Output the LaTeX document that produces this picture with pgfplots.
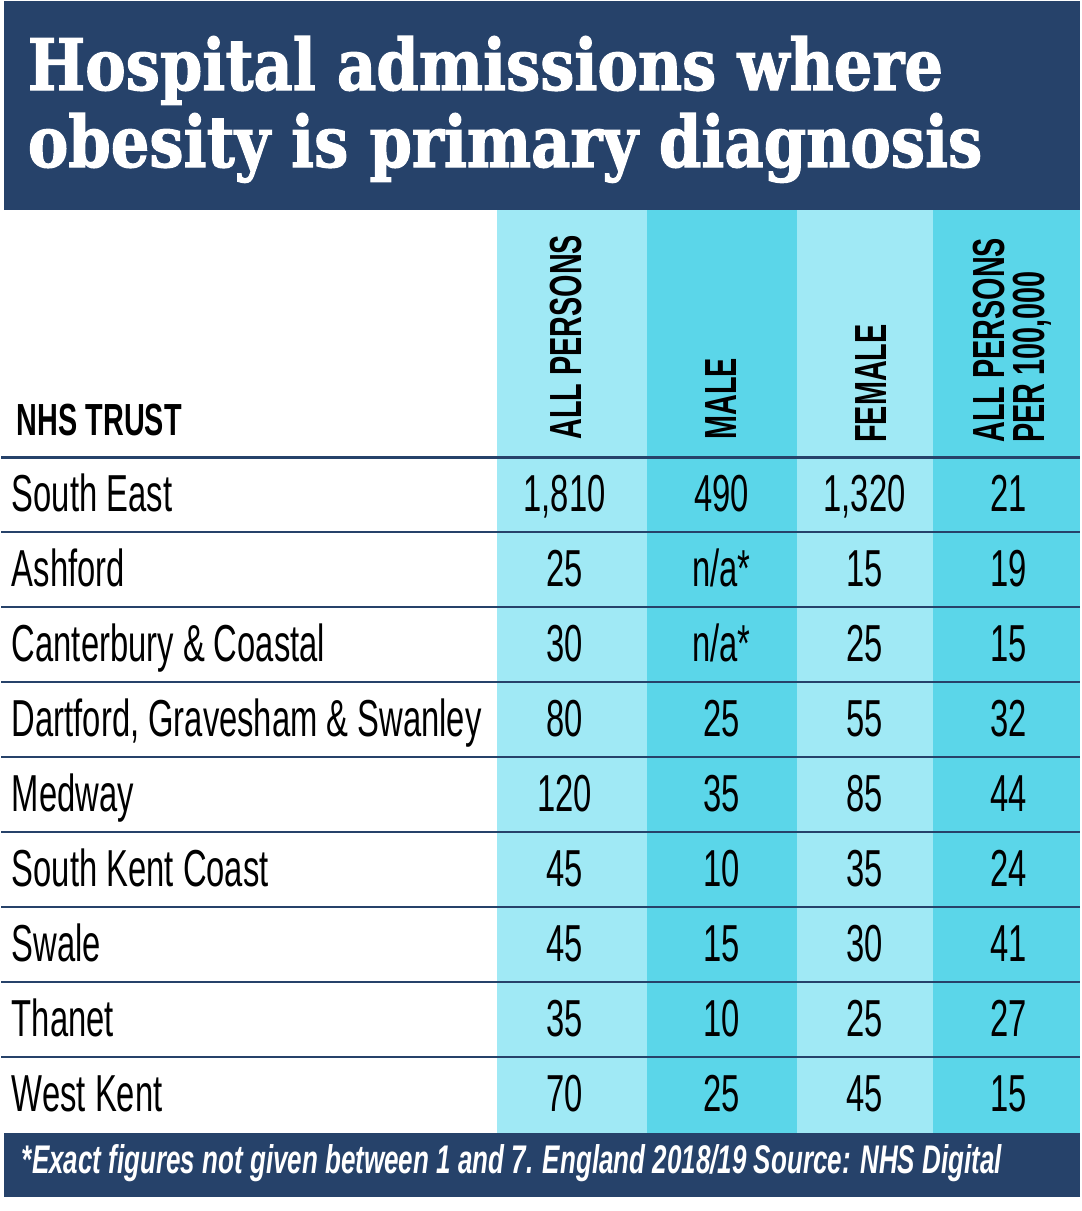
\documentclass[border=0pt]{standalone}
\usepackage{pgfplots}
\usepackage{pgfplotstable}
\pgfplotsset{compat=1.18}
\usepackage{fontspec}
\setmainfont{Liberation Sans}
\newfontfamily\condfont[FakeStretch=0.63]{Liberation Sans}
\newfontfamily\headfont[FakeStretch=0.64]{Liberation Sans}
\newfontfamily\titlefont[FakeStretch=0.855, FakeBold=1.6]{DejaVu Serif}
\newfontfamily\footfont[FakeStretch=0.65]{Liberation Sans}
\definecolor{navy}{HTML}{26426A}
\definecolor{lightcyan}{HTML}{A0E9F5}
\definecolor{darkcyan}{HTML}{5BD6E9}
\pgfplotstableread[col sep=semicolon]{
name;all;male;female;per
South East;1,810;490;1,320;21
Ashford;25;n/a*;15;19
Canterbury \& Coastal;30;n/a*;25;15
Dartford, Gravesham \& Swanley;80;25;55;32
Medway;120;35;85;44
South Kent Coast;45;10;35;24
Swale;45;15;30;41
Thanet;35;10;25;27
West Kent;70;25;45;15
}\trusts
\begin{document}
\begin{tikzpicture}
\begin{axis}[
  width=540pt, height=605.5pt, scale only axis,
  xmin=0, xmax=1080, ymin=0, ymax=1211, y dir=reverse,
  hide axis, clip=false,
  cellnum/.style={draw=none, mark=none, nodes near coords, point meta=explicit symbolic,
    nodes near coords style={anchor=base, inner sep=0pt, text=black,
      font=\condfont\fontsize{26}{30}\selectfont}},
]
% background
\fill[white] (axis cs:0,0) rectangle (axis cs:1080,1211);
% title box
\fill[navy] (axis cs:3,1) rectangle (axis cs:1078,210);
% columns
\fill[lightcyan] (axis cs:495,210) rectangle (axis cs:645,1133);
\fill[darkcyan] (axis cs:645,210) rectangle (axis cs:795,1133);
\fill[lightcyan] (axis cs:795,210) rectangle (axis cs:931,1133);
\fill[darkcyan] (axis cs:931,210) rectangle (axis cs:1078,1133);
% footer
\fill[navy] (axis cs:3,1133) rectangle (axis cs:1078,1197);
% row rules
\draw[navy, line width=1.5pt] (axis cs:0,457) -- (axis cs:1078,457);
\foreach \yy in {532,607,682,757,832,907,982,1057} {
  \edef\tmp{\noexpand\draw[navy, line width=1.1pt] (axis cs:0,\yy) -- (axis cs:1078,\yy);}\tmp
}
% title
\node[anchor=base west, text=white, inner sep=0pt, font=\titlefont\bfseries\fontsize{35.5}{40}\selectfont] at (axis cs:26,90) {Hospital admissions where};
\node[anchor=base west, text=white, inner sep=0pt, font=\titlefont\bfseries\fontsize{35.5}{40}\selectfont] at (axis cs:26,167) {obesity is primary diagnosis};
% headers
\node[anchor=base west, inner sep=0pt, font=\headfont\bfseries\fontsize{22.5}{24}\selectfont] at (axis cs:15,435) {NHS TRUST};
\node[rotate=90, anchor=base west, inner sep=0pt, font=\headfont\bfseries\fontsize{22.5}{24}\selectfont] at (axis cs:580,440) {ALL PERSONS};
\node[rotate=90, anchor=base west, inner sep=0pt, font=\headfont\bfseries\fontsize{22.5}{24}\selectfont] at (axis cs:735,440) {MALE};
\node[rotate=90, anchor=base west, inner sep=0pt, font=\headfont\bfseries\fontsize{22.5}{24}\selectfont] at (axis cs:885,443) {FEMALE};
\node[rotate=90, anchor=base west, inner sep=0pt, font=\headfont\bfseries\fontsize{22.5}{24}\selectfont] at (axis cs:1003,443) {ALL PERSONS};
\node[rotate=90, anchor=base west, inner sep=0pt, font=\headfont\bfseries\fontsize{22.5}{24}\selectfont] at (axis cs:1043,443) {PER 100,000};
% data
\addplot[cellnum, nodes near coords style={anchor=base west}] table[x expr=10, y expr=511+75*\coordindex, meta=name] {\trusts};
\addplot[cellnum] table[x expr=563, y expr=511+75*\coordindex, meta=all] {\trusts};
\addplot[cellnum] table[x expr=720, y expr=511+75*\coordindex, meta=male] {\trusts};
\addplot[cellnum] table[x expr=863, y expr=511+75*\coordindex, meta=female] {\trusts};
\addplot[cellnum] table[x expr=1007, y expr=511+75*\coordindex, meta=per] {\trusts};
% footer text
\node[anchor=base west, text=white, inner sep=0pt, font=\footfont\bfseries\itshape\fontsize{20}{22}\selectfont] at (axis cs:20,1173) {*Exact figures not given between 1 and 7. England 2018/19 Source: NHS Digital};
\end{axis}
\end{tikzpicture}
\end{document}
